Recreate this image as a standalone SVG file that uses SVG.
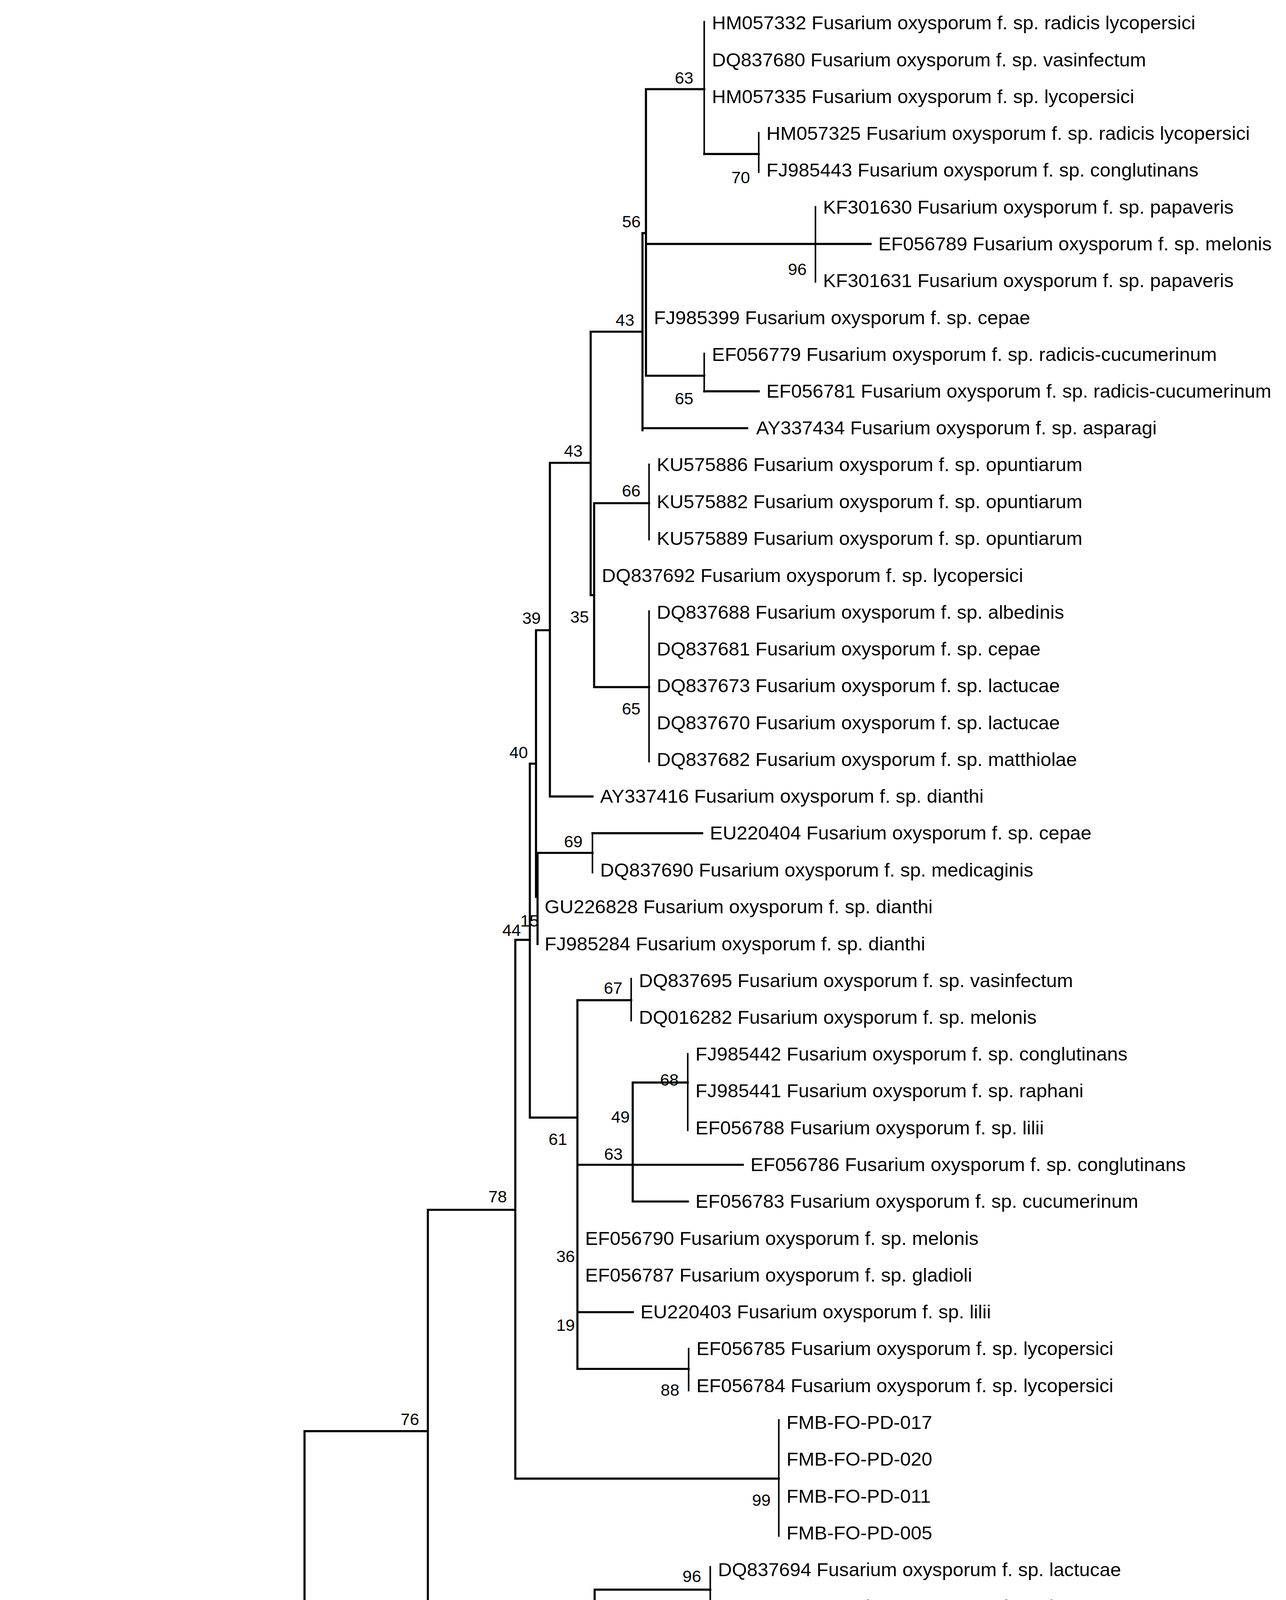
<svg xmlns="http://www.w3.org/2000/svg" width="3293" height="5120" viewBox="0 0 3293 5120">
<style>
.e{fill:none;stroke:#000;stroke-width:1.65;stroke-linecap:square}
.t{stroke-width:1.2}
.l{font-family:"Liberation Sans",Arial,sans-serif;font-size:15px;fill:#000}
.b{font-family:"Liberation Sans",Arial,sans-serif;font-size:13px;fill:#000;text-anchor:middle}
</style>
<rect width="3293" height="5120" fill="#fff"/>
<g transform="matrix(3.293 0 0 3.266 0 0)">
<g id="connectors">
<path class="e" d="M11 1370V1490.4M11 1370H119M11 1490.4H279
M119 1278V1461.5M119 1278H236.8M119 1461.5H300.4
M236.8 1121.8V1432.6M236.8 1121.8H332.7M236.8 1432.6H589.6
M332.7 948.3V1296M332.7 948.3H400.7M332.7 1296H462.4
M462.4 1246V1346M462.4 1246H552.3M462.4 1346H500
M400.7 736.7V1159M400.7 736.7H412M400.7 1159H605.6
M412 598.6V876M412 598.6H416.8M412 876H449
M449 784V1073M449 784H490.8M449 913H577.6M449 1028.5H492.1M449 1073H535.5
M492 848.5V941.8M492 848.5H534.8M492 941.8H534.8
M416.8 494V703M416.8 494H427.6M416.8 703H418
M418 668.5V740M418 668.5H460.7
M460.7 653.1H546
M427.6 362.8V624.3M427.6 362.8H459.3M427.6 624.3H460.7
M459.3 260V466.5M459.3 260H499.6M459.3 466.5H462
M462 394.4V538.6M462 394.4H504.7M462 538.6H504.7
M499.6 182.7V337.3M499.6 182.7H502.3M499.6 335.6H581
M502.3 69.9V294.5M502.3 69.9H547.6M502.3 191.2H634.1M502.3 294.5H547.6
M634.1 191.2H677M547.6 120.7H590M547.6 306.7H590"/>
<path class="e t" d="M552.3 1228V1262M500 1286V1406M605.6 1113V1204M490.8 767V800M534.8 826V886M535.5 1057V1090M460.7 653V684M504.7 364V423M504.7 479V597M634.1 162V221M547.6 17V121M590 104V135M547.6 277V307"/>
<path d="M66.2 1530H154.9V1536H66.2Z M66.2 1525H72.4V1541H66.2Z M148.7 1525H154.9V1541H148.7Z" fill="#000"/>
</g>
<g id="leaves" class="l">
<g id="n0"><text x="553.6" y="23">HM057332 Fusarium oxysporum f. sp. radicis lycopersici</text></g>
<g id="n1"><text x="553.6" y="51.9">DQ837680 Fusarium oxysporum f. sp. vasinfectum</text></g>
<g id="n2"><text x="553.6" y="80.7">HM057335 Fusarium oxysporum f. sp. lycopersici</text></g>
<g id="n3"><text x="596" y="109.6">HM057325 Fusarium oxysporum f. sp. radicis lycopersici</text></g>
<g id="n4"><text x="596" y="138.5">FJ985443 Fusarium oxysporum f. sp. conglutinans</text></g>
<g id="n5"><text x="640" y="167.4">KF301630 Fusarium oxysporum f. sp. papaveris</text></g>
<g id="n6"><text x="683" y="196.2">EF056789 Fusarium oxysporum f. sp. melonis</text></g>
<g id="n7"><text x="640" y="225.1">KF301631 Fusarium oxysporum f. sp. papaveris</text></g>
<g id="n8"><text x="508.5" y="254">FJ985399 Fusarium oxysporum f. sp. cepae</text></g>
<g id="n9"><text x="553.6" y="282.8">EF056779 Fusarium oxysporum f. sp. radicis-cucumerinum</text></g>
<g id="n10"><text x="596" y="311.7">EF056781 Fusarium oxysporum f. sp. radicis-cucumerinum</text></g>
<g id="n11"><text x="588" y="340.6">AY337434 Fusarium oxysporum f. sp. asparagi</text></g>
<g id="n12"><text x="510.7" y="369.4">KU575886 Fusarium oxysporum f. sp. opuntiarum</text></g>
<g id="n13"><text x="510.7" y="398.3">KU575882 Fusarium oxysporum f. sp. opuntiarum</text></g>
<g id="n14"><text x="510.7" y="427.2">KU575889 Fusarium oxysporum f. sp. opuntiarum</text></g>
<g id="n15"><text x="468" y="456.1">DQ837692 Fusarium oxysporum f. sp. lycopersici</text></g>
<g id="n16"><text x="510.7" y="484.9">DQ837688 Fusarium oxysporum f. sp. albedinis</text></g>
<g id="n17"><text x="510.7" y="513.8">DQ837681 Fusarium oxysporum f. sp. cepae</text></g>
<g id="n18"><text x="510.7" y="542.7">DQ837673 Fusarium oxysporum f. sp. lactucae</text></g>
<g id="n19"><text x="510.7" y="571.5">DQ837670 Fusarium oxysporum f. sp. lactucae</text></g>
<g id="n20"><text x="510.7" y="600.4">DQ837682 Fusarium oxysporum f. sp. matthiolae</text></g>
<g id="n21"><text x="466.7" y="629.3">AY337416 Fusarium oxysporum f. sp. dianthi</text></g>
<g id="n22"><text x="552" y="658.1">EU220404 Fusarium oxysporum f. sp. cepae</text></g>
<g id="n23"><text x="466.7" y="687">DQ837690 Fusarium oxysporum f. sp. medicaginis</text></g>
<g id="n24"><text x="423.5" y="715.9">GU226828 Fusarium oxysporum f. sp. dianthi</text></g>
<g id="n25"><text x="423.5" y="744.8">FJ985284 Fusarium oxysporum f. sp. dianthi</text></g>
<g id="n26"><text x="496.8" y="773.6">DQ837695 Fusarium oxysporum f. sp. vasinfectum</text></g>
<g id="n27"><text x="496.8" y="802.5">DQ016282 Fusarium oxysporum f. sp. melonis</text></g>
<g id="n28"><text x="540.8" y="831.4">FJ985442 Fusarium oxysporum f. sp. conglutinans</text></g>
<g id="n29"><text x="540.8" y="860.2">FJ985441 Fusarium oxysporum f. sp. raphani</text></g>
<g id="n30"><text x="540.8" y="889.1">EF056788 Fusarium oxysporum f. sp. lilii</text></g>
<g id="n31"><text x="583.6" y="918">EF056786 Fusarium oxysporum f. sp. conglutinans</text></g>
<g id="n32"><text x="540.8" y="946.8">EF056783 Fusarium oxysporum f. sp. cucumerinum</text></g>
<g id="n33"><text x="455" y="975.7">EF056790 Fusarium oxysporum f. sp. melonis</text></g>
<g id="n34"><text x="455" y="1004.6">EF056787 Fusarium oxysporum f. sp. gladioli</text></g>
<g id="n35"><text x="498" y="1033.5">EU220403 Fusarium oxysporum f. sp. lilii</text></g>
<g id="n36"><text x="541.5" y="1062.3">EF056785 Fusarium oxysporum f. sp. lycopersici</text></g>
<g id="n37"><text x="541.5" y="1091.2">EF056784 Fusarium oxysporum f. sp. lycopersici</text></g>
<g id="n38"><text x="611.6" y="1120.1">FMB-FO-PD-017</text></g>
<g id="n39"><text x="611.6" y="1148.9">FMB-FO-PD-020</text></g>
<g id="n40"><text x="611.6" y="1177.8">FMB-FO-PD-011</text></g>
<g id="n41"><text x="611.6" y="1206.7">FMB-FO-PD-005</text></g>
<g id="n42"><text x="558.3" y="1235.5">DQ837694 Fusarium oxysporum f. sp. lactucae</text></g>
<g id="n43"><text x="558.3" y="1264.4">DQ837693 Fusarium oxysporum f. sp. lactucae</text></g>
<g id="n44"><text x="506" y="1293.3">HM591538 Fusarium oxysporum f. sp. canariensis</text></g>
<g id="n45"><text x="506" y="1322.2">HM591537 Fusarium oxysporum f. sp. canariensis</text></g>
<g id="n46"><text x="506" y="1351">FJ895290 Fusarium oxysporum f. sp. canariensis</text></g>
<g id="n47"><text x="506" y="1379.9">FJ895287 Fusarium oxysporum f. sp. canariensis</text></g>
<g id="n48"><text x="506" y="1408.8">FJ985388 Fusarium oxysporum f. sp. canariensis</text></g>
<g id="n49"><text x="595.6" y="1437.6">FJ985362 Fusarium oxysporum f. sp. passiflorae</text></g>
<g id="n50"><text x="306.4" y="1466.5">FJ985444 Fusarium oxysporum f. sp. foetens</text></g>
<g id="n51"><text x="285" y="1495.4">EF056760 Fusarium oxysporum f. sp. cucumerinum</text></g>
</g>
<g id="bootstrap" class="b">
<text x="532" y="65.5">63</text><text x="576" y="143.5">70</text><text x="491" y="178.2">56</text>
<text x="620" y="215.5">96</text><text x="486" y="255.5">43</text><text x="532" y="317">65</text>
<text x="445.8" y="357.8">43</text><text x="490.8" y="389.1">66</text><text x="413.3" y="488.9">39</text>
<text x="450.7" y="488">35</text><text x="490.8" y="559.9">65</text><text x="403.3" y="594.2">40</text>
<text x="445.8" y="664">69</text><text x="411.8" y="726.2">15</text><text x="397.8" y="733.5">44</text>
<text x="476.8" y="778.8">67</text><text x="520.5" y="850.8">68</text><text x="482.5" y="879.9">49</text>
<text x="433.8" y="897.4">61</text><text x="477" y="909">63</text><text x="387" y="942.5">78</text>
<text x="439.8" y="989.2">36</text><text x="439.8" y="1043.1">19</text><text x="521" y="1094">88</text>
<text x="592" y="1180.3">99</text><text x="318.7" y="1116.9">76</text><text x="222.9" y="1272.5">86</text>
<text x="538" y="1239.9">96</text><text x="447.7" y="1317.2">92</text><text x="486.8" y="1368.2">75</text>
<text x="110" y="1555">0.005</text>
</g>
</g>
</svg>
